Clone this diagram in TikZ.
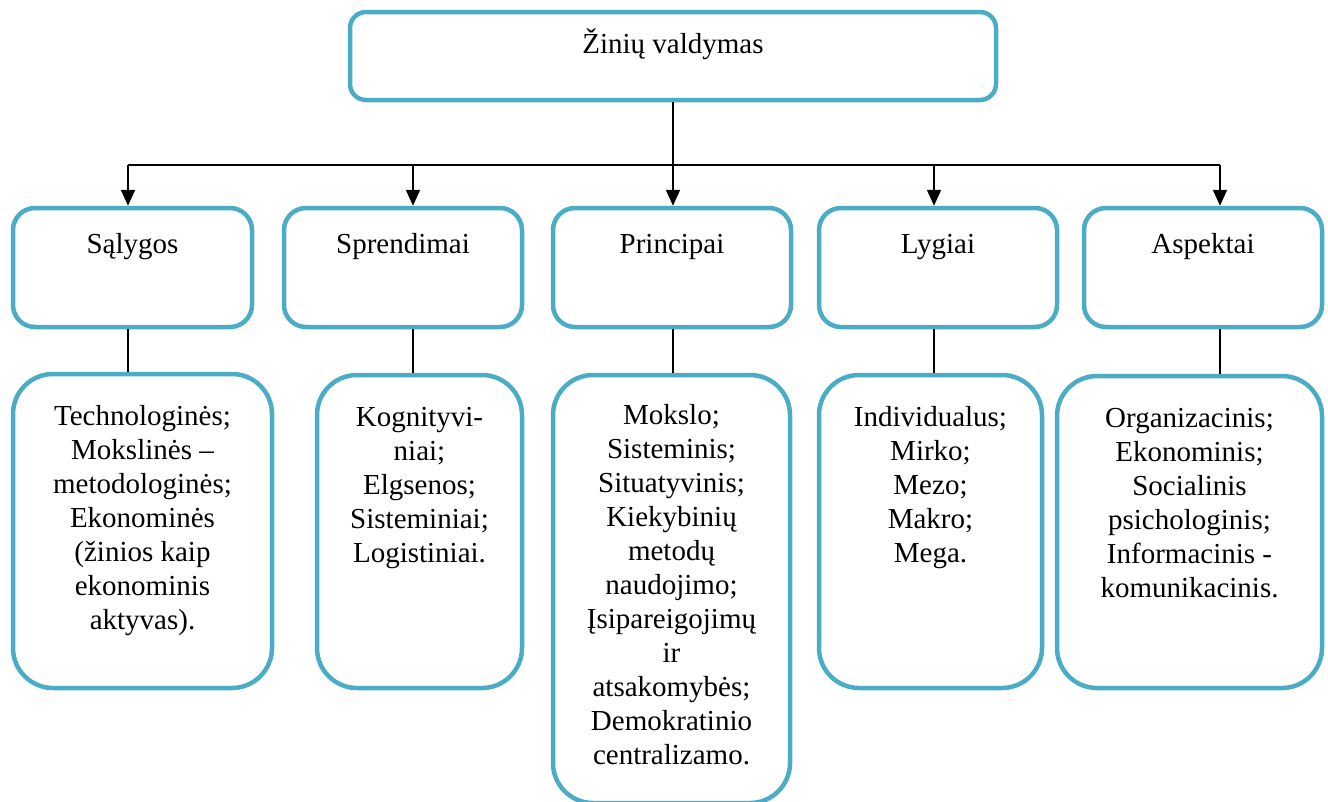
\documentclass[tikz,border=0pt]{standalone}
\usepackage{fontspec}
\setmainfont{Liberation Serif}
\usetikzlibrary{arrows.meta}
\definecolor{frameblue}{RGB}{75,172,198}
% centred block of lines whose reference point is the first baseline
\newcommand\linestack[1]{\begin{tabular}[t]{@{}c@{}}#1\end{tabular}}
\begin{document}
\begin{tikzpicture}[x=1pt,y=-1pt,
  txt/.style={font=\fontsize{29}{34}\selectfont},
  % rounded frame; #1 = width, #2 = height, #3 = baseline offset of the first line
  frame/.style n args={3}{draw=frameblue, line width=4.5pt, fill=white,
    rectangle, inner sep=0pt, minimum width=#1, minimum height=#2,
    text height=#3, text depth={#2-#3}, txt},
  topbox/.style n args={3}{frame={#1}{#2}{#3}, rounded corners=16pt},
  midbox/.style n args={3}{frame={#1}{#2}{#3}, rounded corners=22pt},
  lowbox/.style n args={3}{frame={#1}{#2}{#3}, rounded corners=40pt},
  link/.style={line width=2pt, black},
  arrow/.style={link, -{Triangle[width=14pt,length=16pt]}}]
\useasboundingbox (0,0) rectangle (1328,801);

% root
\node[topbox={646pt}{88pt}{41pt}] (root) at (673,56) {Žinių valdymas};

% second level
\node[midbox={239pt}{119pt}{45pt}] (s1) at (132.5,267.5) {Sąlygos};
\node[midbox={238pt}{119pt}{45pt}] (s2) at (403,267.5) {Sprendimai};
\node[midbox={238pt}{119pt}{45pt}] (s3) at (672,267.5) {Principai};
\node[midbox={238pt}{119pt}{45pt}] (s4) at (938,267.5) {Lygiai};
\node[midbox={238pt}{119pt}{45pt}] (s5) at (1203,267.5) {Aspektai};

% third level
\node[lowbox={259pt}{314pt}{51pt}] (b1) at (142.5,531)
  {\linestack{Technologinės;\\Mokslinės –\\metodologinės;\\Ekonominės\\(žinios kaip\\ekonominis\\aktyvas).}};
\node[lowbox={205pt}{313pt}{51pt}] (b2) at (419.5,531.5)
  {\linestack{Kognityvi-\\niai;\\Elgsenos;\\Sisteminiai;\\Logistiniai.}};
\node[lowbox={237pt}{428pt}{49pt}] (b3) at (671.5,589)
  {\linestack{Mokslo;\\Sisteminis;\\Situatyvinis;\\Kiekybinių\\metodų\\naudojimo;\\Įsipareigojimų\\ir\\atsakomybės;\\Demokratinio\\centralizamo.}};
\node[lowbox={223pt}{313pt}{51pt}] (b4) at (930.5,531.5)
  {\linestack{Individualus;\\Mirko;\\Mezo;\\Makro;\\Mega.}};
\node[lowbox={265pt}{312pt}{51pt}] (b5) at (1189.5,532)
  {\linestack{Organizacinis;\\Ekonominis;\\Socialinis\\psichologinis;\\Informacinis -\\komunikacinis.}};

% branching points on the distribution bar
\coordinate (j1) at (128,165);
\coordinate (j2) at (413,165);
\coordinate (j3) at (673,165);
\coordinate (j4) at (934,165);
\coordinate (j5) at (1220,165);

\draw[link] (j1) -- (j5);
\draw[arrow] (root.south -| j3) -- (s3.north -| j3);
\draw[arrow] (j1) -- (s1.north -| j1);
\draw[arrow] (j2) -- (s2.north -| j2);
\draw[arrow] (j4) -- (s4.north -| j4);
\draw[arrow] (j5) -- (s5.north -| j5);

% plain links to the detail boxes
\draw[link] (s1.south -| j1) -- (b1.north -| j1);
\draw[link] (s2.south -| j2) -- (b2.north -| j2);
\draw[link] (s3.south -| j3) -- (b3.north -| j3);
\draw[link] (s4.south -| j4) -- (b4.north -| j4);
\draw[link] (s5.south -| j5) -- (b5.north -| j5);
\end{tikzpicture}
\end{document}
